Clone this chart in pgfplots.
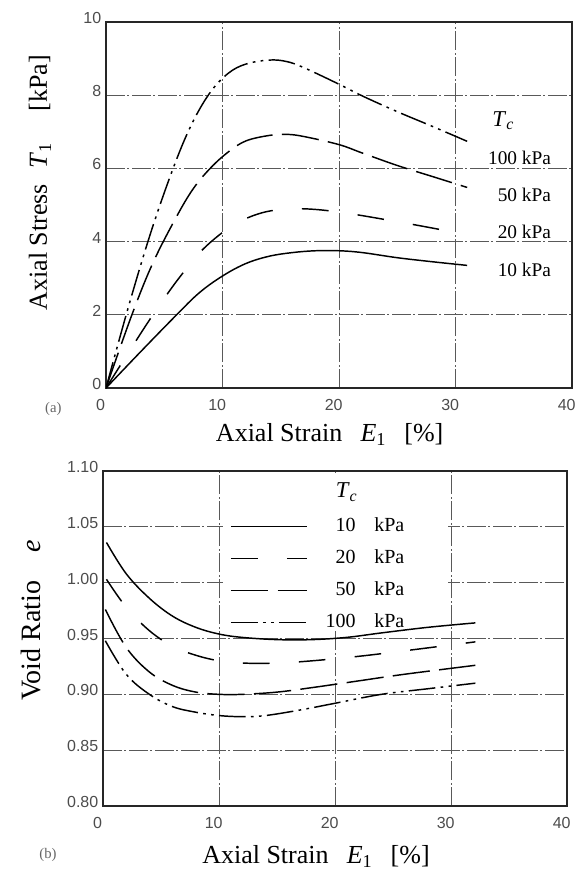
\documentclass[border=0pt]{standalone}
\usepackage{fontspec}
\setmainfont{Liberation Serif}
\setsansfont{Liberation Sans}
\usepackage{pgfplots}
\pgfplotsset{compat=1.18}
\pgfplotsset{
  myaxis/.style={
    scale only axis,
    axis line style={line width=1.1pt, black!85},
    xmin=0, xmax=40,
    xtick={0,10,20,30,40},
    grid=major,
    major grid style={black!65, line width=0.6pt, dash pattern=on 14pt off 2pt on 1.5pt off 2pt},
    tick style={draw=none},
    ticklabel style={font=\sffamily\fontsize{12}{14}\selectfont, text=black!70},
    /pgf/number format/assume math mode=true,
    xticklabel style={xshift=-4pt, yshift=-5pt},
    yticklabel style={yshift=3pt},
    label style={font=\fontsize{19.5}{22}\selectfont},
  },
  crv/.style={black, line width=1.1pt, smooth, tension=0.6, no markers},
  s10/.style={crv, solid},
  s20/.style={crv, dash pattern=on 20pt off 22pt},
  s50/.style={crv, dash pattern=on 28pt off 7pt},
  s100/.style={crv, dash pattern=on 20pt off 4pt on 2pt off 4pt on 2pt off 4pt},
}
\begin{document}
\begin{tikzpicture}
\path[use as bounding box] (0pt,0pt) rectangle (432pt,-657.75pt);

% ---------------- (a) ----------------
\begin{axis}[myaxis,
  at={(79.5pt,-291pt)}, anchor=south west,
  width=349.5pt, height=274.5pt,
  ymin=0, ymax=10, ytick={0,2,4,6,8,10},
  xlabel={Axial Strain\hspace{0.7em}\textit{E}\textsubscript{1}\hspace{0.7em}[\%]},
  ylabel={Axial Stress\hspace{0.6em}\textit{T}\textsubscript{1}\hspace{1.2em}[kPa]},
  xlabel style={at={(axis description cs:0.48,-0.126)}, anchor=center},
  ylabel style={at={(axis description cs:-0.1416,0.561)}, anchor=center},
]
\addplot[s10] coordinates {(0,0) (3,1.0) (6,1.98) (8,2.6) (10,3.06) (12,3.4) (14,3.6) (16,3.7) (18,3.75) (20,3.75) (22,3.7) (25,3.56) (28,3.45) (31,3.35)};
\addplot[s20] coordinates {(0,0) (3.2,1.6) (5,2.45) (6.5,3.1) (8.2,3.75) (10,4.25) (11.5,4.55) (13,4.75) (14.5,4.86) (16.1,4.9) (18.3,4.87) (21,4.76) (24,4.6) (27,4.43) (29.5,4.28)};
\addplot[s50] coordinates {(0,0) (2.2,1.98) (4,3.4) (6,4.65) (7.5,5.45) (9,6.02) (10.5,6.45) (12,6.75) (14,6.9) (15.5,6.93) (17,6.87) (20,6.65) (22,6.42) (25,6.08) (28,5.78) (31,5.48)};
\addplot[s100] coordinates {(0,0) (2,2.3) (4,4.4) (6,6.2) (7.5,7.3) (9,8.1) (10.5,8.6) (12,8.85) (14,8.96) (15.5,8.92) (17,8.75) (20,8.3) (22,7.98) (25,7.55) (28,7.15) (31,6.74)};
\node[font=\fontsize{17}{20}\selectfont] at (axis cs:34.1,7.3) {\textit{T}\textsubscript{\textit{c}}};
\node[anchor=east, font=\fontsize{14.5}{17}\selectfont] at (axis cs:38.6,6.3) {100 kPa};
\node[anchor=east, font=\fontsize{14.5}{17}\selectfont] at (axis cs:38.6,5.27) {50 kPa};
\node[anchor=east, font=\fontsize{14.5}{17}\selectfont] at (axis cs:38.6,4.26) {20 kPa};
\node[anchor=east, font=\fontsize{14.5}{17}\selectfont] at (axis cs:38.6,3.23) {10 kPa};
\end{axis}

% ---------------- (b) ----------------
\begin{axis}[myaxis,
  at={(77.25pt,-604.5pt)}, anchor=south west,
  width=348pt, height=251.25pt,
  ymin=0.8, ymax=1.1, ytick={0.8,0.85,0.9,0.95,1.0,1.05,1.1},
  yticklabel style={/pgf/number format/.cd, fixed, fixed zerofill, precision=2},
  xlabel={Axial Strain\hspace{0.7em}\textit{E}\textsubscript{1}\hspace{0.7em}[\%]},
  ylabel={Void Ratio\hspace{1em}\textit{e}},
  xlabel style={at={(axis description cs:0.459,-0.151)}, anchor=center},
  ylabel style={at={(axis description cs:-0.155,0.554)}, anchor=center, font=\fontsize{21}{24}\selectfont},
  legend style={at={(axis cs:10.6,1.0615)}, anchor=north west, draw=none, fill=none,
    font=\fontsize{15}{18}\selectfont, row sep=10pt,
    nodes={inner sep=0pt, text height=11pt, text depth=3pt}},
  legend cell align=left,
  legend image code/.code={\draw[#1] (0pt,0pt) -- (57pt,0pt);},
]
\fill[white] (axis cs:10.35,0.957) rectangle (axis cs:29.75,1.096);
\addplot[s10] coordinates {(0.3,1.036) (2,1.008) (4,0.986) (6,0.970) (8,0.960) (10,0.954) (12,0.951) (15,0.949) (18,0.949) (21,0.951) (24,0.955) (28,0.960) (32.1,0.964)};
\addlegendentry{\makebox[36pt][r]{10}\hspace{14pt}kPa}
\addplot[s20] coordinates {(0.3,1.003) (2,0.978) (4,0.957) (6,0.943) (8,0.935) (10,0.930) (12,0.928) (15,0.928) (18,0.930) (22,0.934) (26,0.939) (32.1,0.947)};
\addlegendentry{\makebox[36pt][r]{20}\hspace{14pt}kPa}
\addplot[s50] coordinates {(0.2,0.976) (2,0.942) (4,0.920) (6,0.908) (8,0.902) (10,0.900) (12,0.900) (15,0.902) (18,0.906) (22,0.912) (26,0.918) (32.1,0.926)};
\addlegendentry{\makebox[36pt][r]{50}\hspace{14pt}kPa}
\addplot[s100] coordinates {(0.2,0.948) (2,0.918) (4,0.900) (6,0.889) (8,0.884) (10,0.881) (12,0.880) (14,0.881) (17,0.886) (20,0.892) (24,0.900) (28,0.905) (32.1,0.910)};
\addlegendentry{\makebox[36pt][r]{100}\hspace{14pt}kPa}
\node[font=\fontsize{17}{20}\selectfont] at (axis cs:21.0,1.081) {\textit{T}\textsubscript{\textit{c}}};
\end{axis}

\node[font=\fontsize{11}{13}\selectfont, text=black!60] at (40pt,-307pt) {(a)};
\node[font=\fontsize{11}{13}\selectfont, text=black!60] at (36pt,-641pt) {(b)};
\end{tikzpicture}
\end{document}
